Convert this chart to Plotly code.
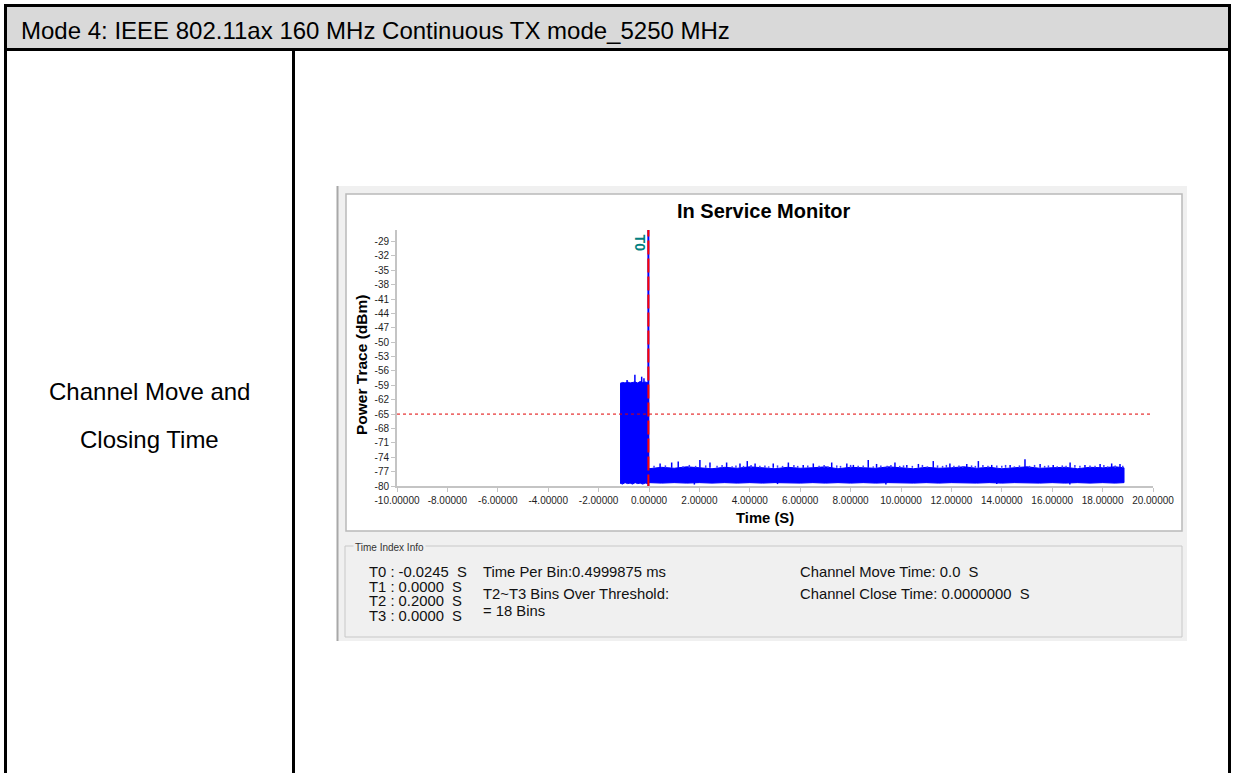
import plotly.graph_objects as go

# ---------------- data ----------------
header_text = "Mode 4: IEEE 802.11ax 160 MHz Continuous TX mode_5250 MHz"
row_label = ["Channel Move and", "Closing Time"]
chart_title = "In Service Monitor"
x_title = "Time (S)"
y_title = "Power Trace (dBm)"

x_range = [-10, 20]
x_tickvals = [-10, -8, -6, -4, -2, 0, 2, 4, 6, 8, 10, 12, 14, 16, 18, 20]
x_ticktext = ["-10.00000", "-8.00000", "-6.00000", "-4.00000", "-2.00000", "0.00000", "2.00000",
              "4.00000", "6.00000", "8.00000", "10.00000", "12.00000", "14.00000", "16.00000",
              "18.00000", "20.00000"]
y_range = [-80, -26.6]
y_tickvals = [-29, -32, -35, -38, -41, -44, -47, -50, -53, -56, -59, -62, -65, -68, -71, -74, -77, -80]
y_ticktext = ["-29", "-32", "-35", "-38", "-41", "-44", "-47", "-50", "-53", "-56", "-59", "-62",
              "-65", "-68", "-71", "-74", "-77", "-80"]

threshold_dbm = -65
t0_time = -0.0245

# burst (channel occupied) envelope
burst_time = [-1.15, -1.05, -0.95, -0.85, -0.75, -0.65, -0.55, -0.45, -0.35, -0.25, -0.15, -0.03]
burst_upper = [-58.6, -58.4, -58.5, -58.3, -58.5, -58.4, -58.3, -58.5, -58.2, -58.4, -58.3, -58.5]
burst_lower = [-79.4, -79.6, -79.3, -79.5, -79.4, -79.6, -79.3, -79.5, -79.4, -79.6, -79.4, -79.5]
burst_spike_time = [-0.87, -0.56, -0.29, -0.20]
burst_spike_peak = [-57.9, -56.8, -57.2, -57.5]

# noise floor envelope after the channel move
floor_time = [0.0, 0.5, 1.0, 1.5, 2.0, 2.5, 3.0, 3.5, 4.0, 4.5, 5.0, 5.5, 6.0, 6.5, 7.0, 7.5,
              8.0, 8.5, 9.0, 9.5, 10.0, 10.5, 11.0, 11.5, 12.0, 12.5, 13.0, 13.5, 14.0, 14.5,
              15.0, 15.5, 16.0, 16.5, 17.0, 17.5, 18.0, 18.5, 18.85]
floor_upper = [-76.4, -76.1, -76.3, -76.0, -76.2, -76.4, -76.1, -76.3, -76.0, -76.2, -76.4, -76.1,
               -76.3, -76.2, -76.0, -76.4, -76.1, -76.2, -76.3, -76.0, -76.2, -76.4, -76.1, -76.3,
               -76.2, -76.0, -76.3, -76.1, -76.4, -76.2, -76.0, -76.3, -76.2, -76.1, -76.4, -76.1,
               -76.2, -76.0, -76.2]
floor_lower = [-79.3, -79.4, -79.3, -79.4, -79.3, -79.4, -79.3, -79.4, -79.3, -79.4, -79.3, -79.3,
               -79.4, -79.3, -79.4, -79.3, -79.4, -79.3, -79.4, -79.3, -79.3, -79.4, -79.3, -79.4,
               -79.3, -79.3, -79.4, -79.3, -79.4, -79.3, -79.3, -79.4, -79.3, -79.4, -79.3, -79.4,
               -79.3, -79.4, -79.3]
floor_spike_time = [0.44, 0.90, 1.16, 2.02, 2.42, 3.08, 3.61, 3.90, 4.21, 4.93, 5.53, 6.12,
                    6.52, 7.25, 7.85, 8.11, 8.70, 9.03, 9.76, 10.23, 10.69, 11.28, 11.94, 12.61,
                    13.07, 13.60, 14.33, 14.92, 15.52, 16.04, 16.71, 17.30, 17.90, 18.36, 18.69]
floor_spike_peak = [-75.3, -75.1, -74.9, -74.6, -75.1, -75.1, -75.3, -74.8, -75.3, -75.3, -75.1, -75.6,
                    -75.3, -75.1, -75.3, -75.6, -74.6, -75.4, -75.1, -75.6, -75.4, -74.8, -75.3, -75.4,
                    -74.8, -75.6, -75.6, -74.4, -75.4, -75.6, -75.1, -75.6, -75.4, -75.3, -75.4]
floor_minor_time = [0.2, 0.65, 1.35, 1.6, 1.85, 2.25, 2.7, 2.9, 3.3, 3.45, 3.75, 4.05, 4.4, 4.6,
                    4.75, 5.1, 5.3, 5.75, 5.9, 6.3, 6.75, 6.95, 7.1, 7.45, 7.6, 8.0, 8.3, 8.5,
                    8.9, 9.2, 9.45, 9.6, 9.95, 10.1, 10.45, 10.85, 11.05, 11.45, 11.65, 11.8,
                    12.1, 12.3, 12.45, 12.8, 12.95, 13.25, 13.45, 13.8, 14.0, 14.15, 14.5, 14.7,
                    15.1, 15.3, 15.7, 15.85, 16.2, 16.4, 16.55, 16.9, 17.1, 17.5, 17.7, 18.05,
                    18.2, 18.5, 18.8]
floor_minor_peak = [-75.8, -75.7, -75.9, -75.6, -75.8, -75.7, -75.8, -75.6, -75.9, -75.7, -75.8,
                    -75.6, -75.8, -75.7, -75.9, -75.7, -75.8, -75.6, -75.8, -75.7, -75.8, -75.6,
                    -75.9, -75.7, -75.8, -75.6, -75.8, -75.7, -75.9, -75.7, -75.8, -75.6, -75.8,
                    -75.7, -75.8, -75.6, -75.9, -75.7, -75.8, -75.6, -75.8, -75.7, -75.9, -75.7,
                    -75.8, -75.6, -75.8, -75.7, -75.8, -75.6, -75.9, -75.7, -75.8, -75.6, -75.8,
                    -75.7, -75.9, -75.7, -75.8, -75.6, -75.8, -75.7, -75.8, -75.6, -75.9, -75.7,
                    -75.8]
floor_dip_time = [1.8, 5.1, 9.4, 13.8, 16.7]
floor_dip_low = [-79.7, -79.6, -79.7, -79.6, -79.7]

info_times = ["T0 : -0.0245\u00a0 S", "T1 : 0.0000\u00a0 S", "T2 : 0.2000\u00a0 S", "T3 : 0.0000\u00a0 S"]
info_bin = ["Time Per Bin:0.4999875 ms", "T2~T3 Bins Over Threshold:", "= 18 Bins"]
info_channel = ["Channel Move Time: 0.0\u00a0 S", "Channel Close Time: 0.0000000\u00a0 S"]
info_group = "Time Index Info"

# ---------------- layout helpers ----------------
W, H = 1235, 773
def fx(p):
    return p / W
def fy(p):
    return 1 - p / H

FONT = "Liberation Sans, Arial, sans-serif"
BLUE = "#0000ff"

fig = go.Figure()

# envelope polygons (burst + floor)
bx = burst_time + burst_time[::-1]
by = burst_upper + burst_lower[::-1]
fig.add_trace(go.Scatter(x=bx, y=by, fill="toself", fillcolor=BLUE, mode="lines",
                         line=dict(color=BLUE, width=1), hoverinfo="skip", showlegend=False))
flx = floor_time + floor_time[::-1]
fly = floor_upper + floor_lower[::-1]
fig.add_trace(go.Scatter(x=flx, y=fly, fill="toself", fillcolor=BLUE, mode="lines",
                         line=dict(color=BLUE, width=1), hoverinfo="skip", showlegend=False))

# spikes
sx, sy = [], []
for t, p in zip(burst_spike_time, burst_spike_peak):
    sx += [t, t, None]
    sy += [-58.5, p, None]
for t, p in zip(floor_spike_time, floor_spike_peak):
    sx += [t, t, None]
    sy += [-76.2, p, None]
for t, p in zip(floor_dip_time, floor_dip_low):
    sx += [t, t, None]
    sy += [-79.2, p, None]
fig.add_trace(go.Scatter(x=sx, y=sy, mode="lines", line=dict(color=BLUE, width=1.5),
                         hoverinfo="skip", showlegend=False))
mx, my = [], []
for t, p in zip(floor_minor_time, floor_minor_peak):
    mx += [t, t, None]
    my += [-76.2, p, None]
fig.add_trace(go.Scatter(x=mx, y=my, mode="lines", line=dict(color="#3a3aff", width=1.5),
                         hoverinfo="skip", showlegend=False))

# threshold line
fig.add_trace(go.Scatter(x=x_range, y=[threshold_dbm, threshold_dbm], mode="lines",
                         line=dict(color="#e00000", width=1, dash="3px,3px"),
                         hoverinfo="skip", showlegend=False))
# T0 marker: blue line under red dashes
fig.add_trace(go.Scatter(x=[t0_time, t0_time], y=[y_range[0], y_range[1]], mode="lines",
                         line=dict(color=BLUE, width=2), hoverinfo="skip", showlegend=False))
fig.add_trace(go.Scatter(x=[t0_time, t0_time], y=[y_range[0] - 0.5, y_range[1]], mode="lines",
                         line=dict(color="#ff0000", width=2, dash="14px,4px"), cliponaxis=False,
                         hoverinfo="skip", showlegend=False))

# ---------------- shapes (table + screenshot frame) ----------------
shapes = []
def rect(x0, y0, x1, y1, fill=None, line=None, lw=0):
    shapes.append(dict(type="rect", xref="paper", yref="paper",
                       x0=fx(x0), x1=fx(x1), y0=fy(y1), y1=fy(y0),
                       fillcolor=fill if fill else "rgba(0,0,0,0)",
                       line=dict(color=line if line else "rgba(0,0,0,0)", width=lw),
                       layer="below"))
def seg(x0, y0, x1, y1, color, lw):
    shapes.append(dict(type="line", xref="paper", yref="paper",
                       x0=fx(x0), x1=fx(x1), y0=fy(y0), y1=fy(y1),
                       line=dict(color=color, width=lw), layer="below"))

rect(5, 5, 1229, 50, fill="#d9d9d9")
seg(4, 5.5, 1231, 5.5, "#000000", 3)
seg(4, 49.5, 1231, 49.5, "#000000", 3)
seg(5.5, 4, 5.5, 773, "#000000", 3)
seg(1229.5, 4, 1229.5, 773, "#000000", 3)
seg(293.5, 49, 293.5, 773, "#000000", 3)

rect(337, 186, 1187, 641, fill="#f0f0f0")
seg(337.5, 186, 337.5, 641, "#a8a8a8", 2)
rect(346, 194, 1182, 531, fill="#ffffff", line="#b9b9b9", lw=1.5)
rect(345, 546, 1182, 637, line="#c8c8c8", lw=1)

# ---------------- annotations ----------------
ann = []
def text(x, y, s, size, color="#000000", xanchor="left", bold=False, angle=0, bg=None):
    a = dict(xref="paper", yref="paper", x=fx(x), y=fy(y), text=("<b>%s</b>" % s) if bold else s,
             showarrow=False, xanchor=xanchor, yanchor="middle", textangle=angle,
             font=dict(family=FONT, size=size, color=color))
    if bg:
        a["bgcolor"] = bg
    ann.append(a)

text(19, 31, header_text, 24)
text(149, 391, row_label[0], 24, xanchor="center")
text(149, 439, row_label[1], 24, xanchor="center")

text(764, 211, chart_title, 20, bold=True, xanchor="center")
text(361, 365, y_title, 15.5, bold=True, xanchor="center", angle=-90)
text(765, 518, x_title, 14.8, bold=True, xanchor="center")
# T0 label
ann.append(dict(xref="x", yref="paper", x=t0_time, y=fy(243), text="<b>T0</b>", showarrow=False,
                xanchor="right", xshift=2, yanchor="middle", textangle=90,
                font=dict(family=FONT, size=14, color="#008080")))

text(353, 547, info_group, 10, color="#333333", bg="#f0f0f0")
for i, s in enumerate(info_times):
    text(367, 572 + i * 14.7, s, 14.8, color="#111111")
text(481, 572, info_bin[0], 14.8, color="#111111")
text(481, 594, info_bin[1], 14.8, color="#111111")
text(481, 611, info_bin[2], 14.8, color="#111111")
text(798, 572, info_channel[0], 14.8, color="#111111")
text(798, 594, info_channel[1], 14.8, color="#111111")

fig.update_layout(
    width=W, height=H, margin=dict(l=0, r=0, t=0, b=0, pad=0, autoexpand=False),
    paper_bgcolor="#ffffff", plot_bgcolor="rgba(0,0,0,0)",
    shapes=shapes, annotations=ann, showlegend=False,
    xaxis=dict(domain=[fx(397), fx(1153)], range=x_range, tickmode="array", tickvals=x_tickvals,
               ticktext=x_ticktext, automargin=False,
               showgrid=False, zeroline=False, showline=True, linecolor="#c4c4c4",
               linewidth=2, ticks="outside", ticklen=4, tickcolor="#c4c4c4", tickwidth=1,
               tickfont=dict(family=FONT, size=10, color="#1e1e1e")),
    yaxis=dict(domain=[fy(486), fy(230)], range=y_range, tickmode="array", tickvals=y_tickvals,
               ticktext=y_ticktext, automargin=False,
               showgrid=False, zeroline=False, showline=True, linecolor="#c4c4c4",
               linewidth=2, ticks="outside", ticklen=4, tickcolor="#c4c4c4", tickwidth=1,
               tickfont=dict(family=FONT, size=10, color="#1e1e1e")),
)

fig.write_html("out.html", config={"displayModeBar": False},
               post_script="document.body.style.margin='0';document.body.style.overflow='hidden';")
